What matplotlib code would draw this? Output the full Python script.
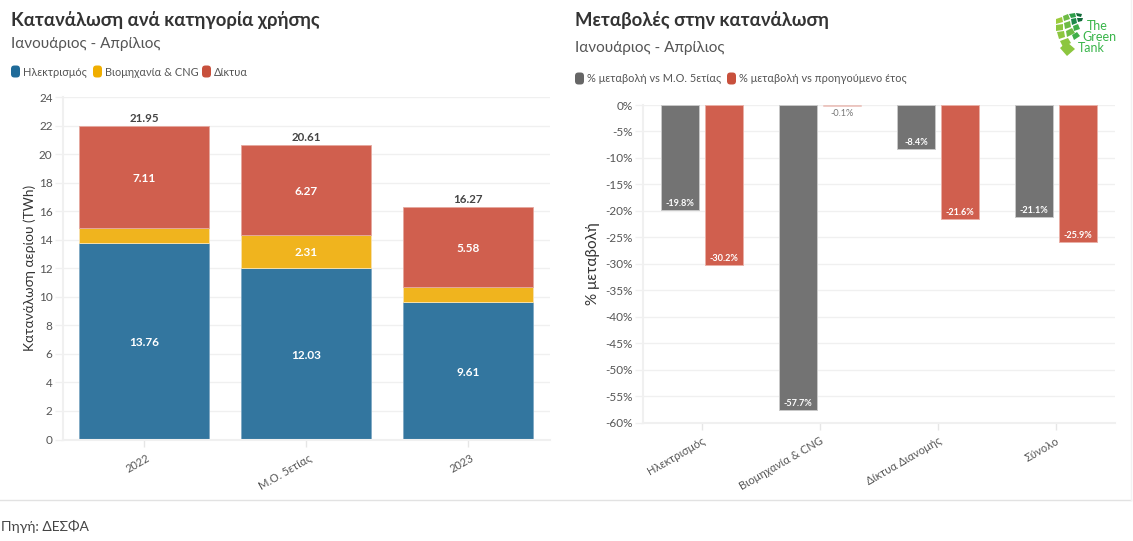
import numpy as np
import matplotlib
matplotlib.use("Agg")
import matplotlib.pyplot as plt
from matplotlib.patches import FancyBboxPatch, Polygon
from matplotlib.transforms import ScaledTranslation

plt.rcParams["font.family"] = ["Lato", "Open Sans", "DejaVu Sans"]

W, H = 1133, 541

# left chart
years = ["2022", "Μ.Ο. 5ετίας", "2023"]
electricity = [13.76, 12.03, 9.61]
industry = [1.08, 2.31, 1.08]
networks = [7.11, 6.27, 5.58]
totals = [21.95, 20.61, 16.27]
industry_labels = ["", "2.31", ""]

# right chart
change_cats = ["Ηλεκτρισμός", "Βιομηχανία & CNG", "Δίκτυα Διανομής", "Σύνολο"]
vs_avg = [-19.8, -57.7, -8.4, -21.1]
vs_prev = [-30.2, -0.1, -21.6, -25.9]

BLUE = "#33769f"
YELLOW = "#f0b41e"
RED = "#d05f4e"
GREY = "#737373"
GRID = "#f0f0f0"
TXT = "#555555"


def px_axes(x0, y0, x1, y1):
    # axes from pixel box, y measured from the top
    return fig.add_axes([x0 / W, 1 - y1 / H, (x1 - x0) / W, (y1 - y0) / H])


def ftext(x, y, s, **kw):
    return fig.text(x / W, 1 - y / H, s, va="center", **kw)


def legend_key(x, y, color):
    fig.add_artist(FancyBboxPatch((x / W, 1 - (y + 6) / H), 9 / W, 12 / H,
                                  boxstyle="round,pad=0,rounding_size=0.003",
                                  transform=fig.transFigure, fc=color, ec="none",
                                  mutation_aspect=W / H))


def clean_axes(ax):
    for name, sp in ax.spines.items():
        sp.set_visible(name in ("left", "bottom"))
        sp.set_color(GRID)
        sp.set_linewidth(1.5)
    ax.set_axisbelow(True)
    ax.grid(axis="y", color=GRID, lw=1)
    ax.tick_params(axis="y", length=6, width=1, color=GRID, labelsize=8.5, labelcolor=TXT, pad=1.5)
    ax.tick_params(axis="x", length=5, width=1, color="#e6e6e6", labelsize=8, labelcolor=TXT, pad=4)


def shift_tick_labels(ax, dx):
    # labels sit with their end just past the tick
    for lab in ax.get_xticklabels():
        lab.set_transform(lab.get_transform() + ScaledTranslation(dx / 100, 0, fig.dpi_scale_trans))


fig = plt.figure(figsize=(W / 100, H / 100), dpi=100, facecolor="white")

# ---- left
ax1 = px_axes(63, 97, 550, 439.5)
clean_axes(ax1)
x1 = np.arange(len(years))
bw = 130 / 162
elec = np.array(electricity)
ind = np.array(industry)
net = np.array(networks)
ax1.bar(x1, elec, bw, color=BLUE, ec="#7fa9c4", lw=0.6)
ax1.bar(x1, ind, bw, bottom=elec, color=YELLOW, ec="#f7e0a8", lw=0.7)
ax1.bar(x1, net, bw, bottom=elec + ind, color=RED, ec="#e5a89e", lw=0.6)
ax1.set_xlim((63 - 144) / 162, (550 - 144) / 162)
ax1.set_ylim(0, 24)
ax1.set_yticks(range(0, 25, 2))
ax1.set_xticks(x1)
ax1.set_xticklabels(years, rotation=30, ha="right", rotation_mode="anchor")
shift_tick_labels(ax1, 2)
ax1.set_ylabel("Κατανάλωση αερίου (TWh)", fontsize=9.8, color="#333333")
ax1.yaxis.set_label_coords((36 - 63) / 487, 0.5)
label_kw = dict(ha="center", va="center", color="white", fontsize=8.5, fontweight="bold")
for i in x1:
    ax1.text(i, elec[i] / 2 - 0.1, f"{elec[i]:.2f}", **label_kw)
    ax1.text(i, elec[i] + ind[i] + net[i] / 2 - 0.1, f"{net[i]:.2f}", **label_kw)
    if industry_labels[i]:
        ax1.text(i, elec[i] + ind[i] / 2 - 0.1, industry_labels[i], **label_kw)
    ax1.text(i, totals[i] + 0.18, f"{totals[i]:.2f}", ha="center", va="bottom", color="#444444", fontsize=8.3, fontweight="bold")

# ---- right
ax2 = px_axes(643, 105, 1115, 422.5)
clean_axes(ax2)
x2 = np.arange(len(change_cats))
step = 118
bw2 = 38 / step
off = 22 / step
ax2.bar(x2 - off, vs_avg, bw2, color=GREY, ec="#c8c8c8", lw=0.7)
bars_prev = ax2.bar(x2 + off, vs_prev, bw2, color=RED, ec="#eab0a7", lw=0.7)
bars_prev[1].set_alpha(0.4)
ax2.set_xlim((643 - 702) / step, (1115 - 702) / step)
ax2.set_ylim(-60, 0)
ax2.set_yticks(range(-60, 1, 5))
ax2.set_yticklabels([f"{v}%" for v in range(-60, 1, 5)])
ax2.set_xticks(x2)
ax2.set_xticklabels(change_cats, rotation=30, ha="right", rotation_mode="anchor")
shift_tick_labels(ax2, 0)
ax2.set_ylabel("% μεταβολή", fontsize=11, color="#333333")
ax2.yaxis.set_label_coords((600 - 643) / 472, 0.5)
small_kw = dict(ha="center", va="bottom", color="white", fontsize=6.6, fontweight="bold")
for i in x2:
    ax2.text(i - off, vs_avg[i] + 0.4, f"{vs_avg[i]}%", **small_kw)
    if vs_prev[i] > -1:
        ax2.text(i + off, vs_prev[i] - 0.6, f"{vs_prev[i]}%", ha="center", va="top", color="#777777", fontsize=6.6)
    else:
        ax2.text(i + off, vs_prev[i] + 0.4, f"{vs_prev[i]}%", **small_kw)

# ---- titles, legends
ftext(11, 20, "Κατανάλωση ανά κατηγορία χρήσης", fontsize=13.3, fontweight="bold", color="#333333")
ftext(11, 44, "Ιανουάριος - Απρίλιος", fontsize=11, color="#555555")
legend_key(11, 71.5, "#1f6b99")
ftext(23, 72, "Ηλεκτρισμός", fontsize=7.9, color=TXT)
legend_key(93, 71.5, "#f0ae00")
ftext(105, 72, "Βιομηχανία & CNG", fontsize=7.9, color=TXT)
legend_key(202, 71.5, "#c8503c")
ftext(214, 72, "Δίκτυα", fontsize=7.9, color=TXT)

ftext(575, 20, "Μεταβολές στην κατανάλωση", fontsize=13.3, fontweight="bold", color="#333333")
ftext(575, 48, "Ιανουάριος - Απρίλιος", fontsize=11, color="#555555")
legend_key(575, 78.5, "#666666")
ftext(587, 79, "% μεταβολή vs Μ.Ο. 5ετίας", fontsize=7.9, color=TXT)
legend_key(727, 78.5, "#c8503c")
ftext(739, 79, "% μεταβολή vs προηγούμενο έτος", fontsize=7.9, color=TXT)

# ---- footer
fig.add_artist(plt.Line2D([0, 1131 / W], [1 - 499.5 / H] * 2, color="#e2e2e2", lw=1))
fig.add_artist(plt.Line2D([1131 / W, 1131 / W], [1 - 499.5 / H, 1], color="#f2f2f2", lw=1))
ftext(1, 526, "Πηγή: ΔΕΣΦΑ", fontsize=10, color="#444444")

# ---- logo
logo_cells = [
    ([(1056, 19), (1062, 17), (1063, 22), (1056, 24)], "#9ccb3b"),
    ([(1056, 25), (1063, 24), (1063, 30), (1056, 31)], "#8cc63f"),
    ([(1057, 32), (1064, 31), (1065, 37), (1059, 39)], "#8cc63f"),
    ([(1060, 41), (1068, 38), (1071, 43), (1063, 47)], "#8cc63f"),
    ([(1060, 48), (1067, 42), (1075, 49), (1067, 56)], "#8cc63f"),
    ([(1063, 16), (1068, 14), (1070, 19), (1064, 21)], "#6dbb45"),
    ([(1064, 23), (1070, 21), (1071, 27), (1065, 29)], "#6dbb45"),
    ([(1066, 31), (1072, 28), (1075, 33), (1067, 37)], "#6dbb45"),
    ([(1072, 35), (1077, 32), (1080, 36), (1074, 40)], "#3fae49"),
    ([(1069, 14), (1075, 13), (1076, 17), (1071, 18)], "#2e9e4a"),
    ([(1071, 19), (1076, 18), (1077, 23), (1072, 25)], "#1e8a4a"),
    ([(1073, 26), (1078, 24), (1080, 29), (1074, 31)], "#3fae49"),
    ([(1076, 13), (1082, 14), (1081, 17), (1077, 16)], "#136b3a"),
    ([(1077, 18), (1083, 18), (1082, 21), (1078, 22)], "#136b3a"),
]
for pts, c in logo_cells:
    fig.add_artist(Polygon([(x / W, 1 - y / H) for x, y in pts], closed=True, fc=c, ec="none",
                           transform=fig.transFigure))
ftext(1087, 26, "The", fontsize=9, color="#39b54a")
ftext(1082, 37, "Green", fontsize=9, color="#39b54a")
ftext(1078, 48, "Tank", fontsize=9, color="#39b54a")

fig.savefig("out.png", dpi=100)
